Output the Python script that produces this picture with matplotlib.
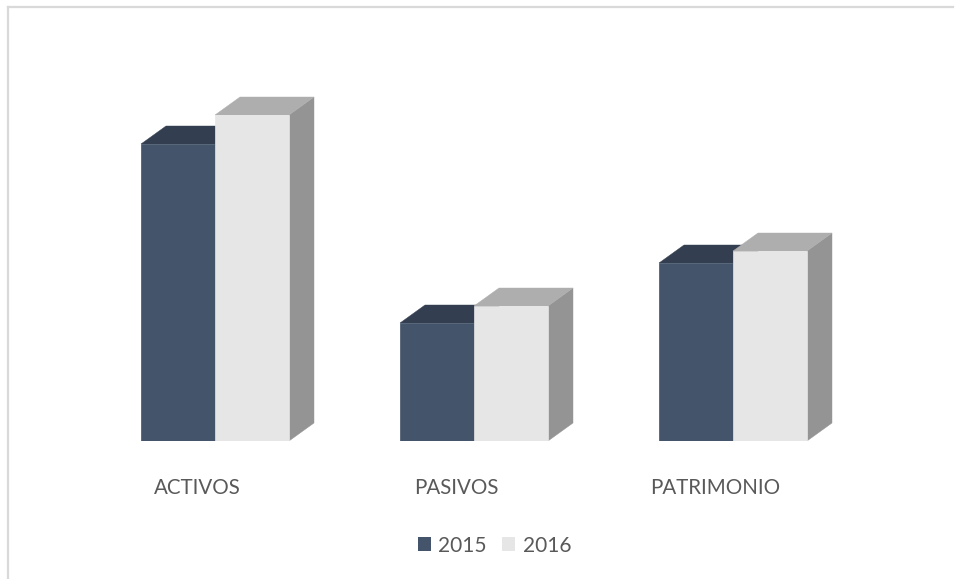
'''
Script to redraw the 2015 / 2016 balance sheet bars with a fake 3D look.
'''

import matplotlib
matplotlib.use("Agg")
import matplotlib.pyplot as plt
import matplotlib.transforms as mtransforms
import numpy as np
from matplotlib.lines import Line2D
from matplotlib.patches import Patch, Polygon

categories = ["ACTIVOS", "PASIVOS", "PATRIMONIO"]
years = ["2015", "2016"]
values_2015 = [297, 118, 178]
values_2016 = [326, 135, 190]

W, H = 956, 579


def draw_bar(ax, x0, x1, top, depth_x, depth_y, front, side, roof):
    # side and roof first, the front face goes over them
    ax.add_patch(Polygon([(x1, 0), (x1 + depth_x, depth_y), (x1 + depth_x, top + depth_y), (x1, top)], facecolor=side, edgecolor=side, linewidth=0.3))
    ax.add_patch(Polygon([(x0, top), (x1, top), (x1 + depth_x, top + depth_y), (x0 + depth_x, top + depth_y)], facecolor=roof, edgecolor=roof, linewidth=0.3))
    ax.add_patch(Polygon([(x0, 0), (x1, 0), (x1, top), (x0, top)], facecolor=front, edgecolor=front, linewidth=0.5))


def main():
    plt.rcParams["font.family"] = ["Lato", "DejaVu Sans"]
    fig = plt.figure(figsize=(W / 100, H / 100), dpi=100)

    # axes box in pixels: x 85..863, y baseline 441 up to 60
    ax = fig.add_axes([85 / W, (H - 441) / H, 778 / W, 381 / H])
    unit = 259.0
    ax.set_xlim((85 - 215) / unit, (863 - 215) / unit)
    ax.set_ylim(0, 381)

    width = 74 / unit
    depth_x = 25 / unit
    depth_y = 18

    x = np.arange(len(categories))
    for i in x:
        draw_bar(ax, i - width, i, values_2015[i], depth_x, depth_y, "#44546a", "#333f50", "#333f50")
    for i in x:
        draw_bar(ax, i, i + width, values_2016[i], depth_x, depth_y, "#e7e6e6", "#949494", "#aeaeae")

    for spine in ax.spines.values():
        spine.set_visible(False)
    ax.set_yticks([])
    ax.set_xticks(x)
    ax.set_xticklabels(categories, fontsize=14.8, color="#595959")
    ax.tick_params(axis="x", length=0, pad=26.5)
    shift = mtransforms.ScaledTranslation(-18 / 100, 0, fig.dpi_scale_trans)
    for label in ax.get_xticklabels():
        label.set_transform(label.get_transform() + shift)

    handles = [Patch(facecolor="#44546a"), Patch(facecolor="#e7e6e6")]
    fig.legend(handles, years, loc="center", bbox_to_anchor=(494.5 / W, (H - 545.5) / H), ncol=2, frameon=False,
               fontsize=15, labelcolor="#595959", handlelength=0.62, handleheight=0.62, handletextpad=0.35, columnspacing=0.75)

    # chart frame, only top and left show
    fig.add_artist(Line2D([8 / W, 8 / W], [0, (H - 7) / H], color="#d9d9d9", linewidth=1.6))
    fig.add_artist(Line2D([8 / W, 953 / W], [(H - 7) / H, (H - 7) / H], color="#d9d9d9", linewidth=1.6))

    plt.savefig("out.png", dpi=100)


if __name__ == "__main__":
    main()
